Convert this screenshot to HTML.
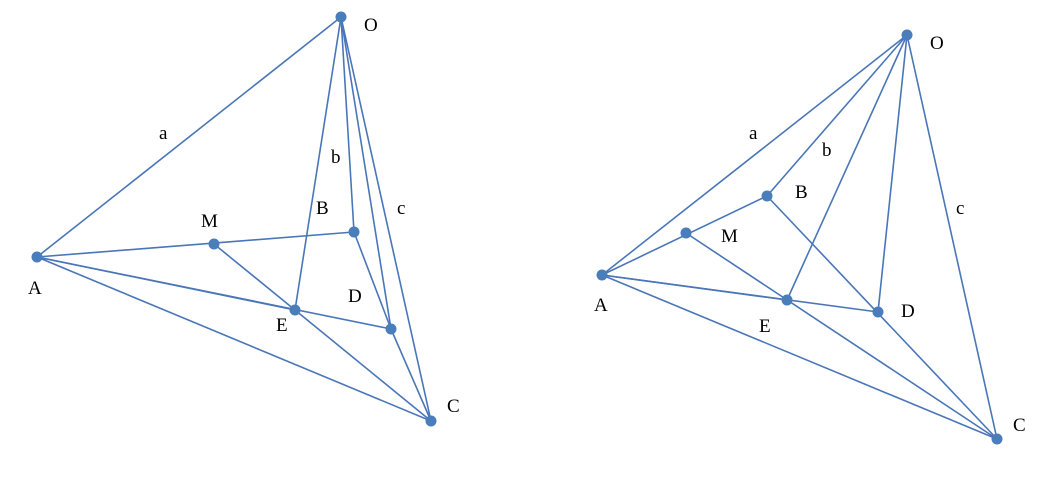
<!DOCTYPE html>
<html><head><meta charset="utf-8"><style>
html,body{margin:0;padding:0;background:#fff;}
svg{display:block;}
text{font-family:"Liberation Serif",serif;font-size:19px;fill:#000;}
line{stroke:#4a76b8;stroke-width:1.6;}
circle{fill:#4a7ebb;}
</style></head><body>
<svg width="1056" height="482" viewBox="0 0 1056 482">
<!-- Left figure -->
<g>
<line x1="341" y1="17" x2="37" y2="257"/>
<line x1="341" y1="17" x2="354" y2="232"/>
<line x1="341" y1="17" x2="295" y2="310"/>
<line x1="341" y1="17" x2="391" y2="329"/>
<line x1="341" y1="17" x2="431" y2="421"/>
<line x1="37" y1="257" x2="354" y2="232"/>
<line x1="37" y1="257" x2="295" y2="310"/>
<line x1="37" y1="257" x2="391" y2="329"/>
<line x1="37" y1="257" x2="431" y2="421"/>
<line x1="214" y1="244" x2="295" y2="310"/>
<line x1="354" y1="232" x2="391" y2="329"/>
<line x1="295" y1="310" x2="431" y2="421"/>
<line x1="391" y1="329" x2="431" y2="421"/>
<circle cx="341" cy="17" r="5.5"/>
<circle cx="37" cy="257" r="5.5"/>
<circle cx="214" cy="244" r="5.5"/>
<circle cx="354" cy="232" r="5.5"/>
<circle cx="295" cy="310" r="5.5"/>
<circle cx="391" cy="329" r="5.5"/>
<circle cx="431" cy="421" r="5.5"/>
<text x="364" y="31">O</text>
<text x="159" y="139">a</text>
<text x="331" y="163">b</text>
<text x="316" y="214">B</text>
<text x="397" y="214">c</text>
<text x="201" y="227">M</text>
<text x="348" y="302">D</text>
<text x="276" y="331">E</text>
<text x="28" y="294">A</text>
<text x="447" y="412">C</text>
</g>
<!-- Right figure -->
<g>
<line x1="907" y1="35" x2="602" y2="275"/>
<line x1="907" y1="35" x2="767" y2="196"/>
<line x1="907" y1="35" x2="787" y2="300"/>
<line x1="907" y1="35" x2="878" y2="312"/>
<line x1="907" y1="35" x2="997" y2="439"/>
<line x1="602" y1="275" x2="767" y2="196"/>
<line x1="602" y1="275" x2="787" y2="300"/>
<line x1="602" y1="275" x2="878" y2="312"/>
<line x1="602" y1="275" x2="997" y2="439"/>
<line x1="686" y1="233" x2="997" y2="439"/>
<line x1="767" y1="196" x2="997" y2="439"/>
<circle cx="907" cy="35" r="5.5"/>
<circle cx="602" cy="275" r="5.5"/>
<circle cx="686" cy="233" r="5.5"/>
<circle cx="767" cy="196" r="5.5"/>
<circle cx="787" cy="300" r="5.5"/>
<circle cx="878" cy="312" r="5.5"/>
<circle cx="997" cy="439" r="5.5"/>
<text x="930" y="49">O</text>
<text x="749" y="139">a</text>
<text x="822" y="156">b</text>
<text x="795" y="198">B</text>
<text x="956" y="214">c</text>
<text x="721" y="242">M</text>
<text x="901" y="317">D</text>
<text x="759" y="332">E</text>
<text x="594" y="311">A</text>
<text x="1013" y="431">C</text>
</g>
</svg>
</body></html>
